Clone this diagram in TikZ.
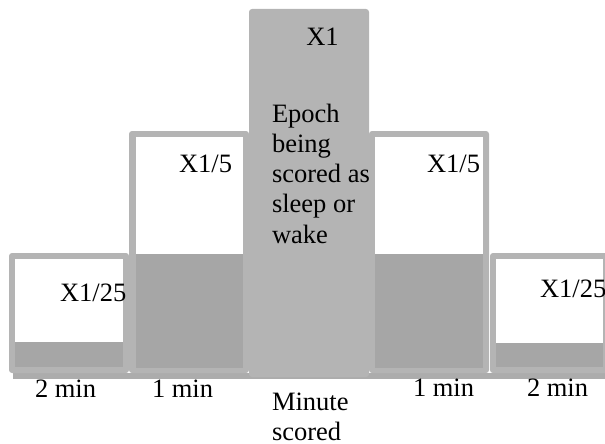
\documentclass[tikz,border=0pt]{standalone}
\usepackage{fontspec}
\setmainfont{Liberation Serif}
\definecolor{framegray}{RGB}{180,180,180}
\definecolor{fillgray}{RGB}{166,166,166}
\definecolor{basegray}{RGB}{172,172,172}
\begin{document}
\begin{tikzpicture}[x=1pt,y=-1pt,
  lbl/.style={font=\fontsize{26.5}{30.3}\selectfont, inner sep=0pt, outer sep=0pt, text=black},
  frame/.style={fill=framegray, rounded corners=3pt},
  upper/.style={fill=white},
  lower/.style={fill=fillgray}]
\useasboundingbox (0,0) rectangle (605,444);
\clip (0,0) rectangle (605,444);
% base bar
\fill[basegray] (13,373) rectangle (605,379);
% left 2 min box
\fill[frame] (9,253) rectangle (129,373);
\fill[upper] (15,259) rectangle (123,342);
\fill[lower] (15,342) rectangle (123,367);
% left 1 min box
\fill[frame] (129,131) rectangle (249,373);
\fill[upper] (136,137) rectangle (243,254);
\fill[lower] (136,254) rectangle (243,368);
% centre box
\fill[frame] (249,9) rectangle (369,377);
% right 1 min box
\fill[frame] (369,131) rectangle (489,373);
\fill[upper] (375,137) rectangle (483,254);
\fill[lower] (375,254) rectangle (483,368);
% right 2 min box
\fill[frame] (490,253) rectangle (609,373);
\fill[upper] (496,259) rectangle (603,343);
\fill[lower] (496,343) rectangle (603,367);
% labels
\node[lbl, anchor=base] (x1) at (322.5,46) {X1};
\node[lbl, anchor=base west] (e1) at (272,122) {Epoch};
\node[lbl, anchor=base west] (e2) at (272,152.3) {being};
\node[lbl, anchor=base west] (e3) at (272,182.6) {scored as};
\node[lbl, anchor=base west] (e4) at (272,212.9) {sleep or};
\node[lbl, anchor=base west] (e5) at (272,243.2) {wake};
\node[lbl, anchor=base west] (x5l) at (179,172) {X1/5};
\node[lbl, anchor=base west] (x5r) at (427,172.5) {X1/5};
\node[lbl, anchor=base west] (x25l) at (60,301) {X1/25};
\node[lbl, anchor=base west] (x25r) at (540,297) {X1/25};
\node[lbl, anchor=base west] (m2l) at (35,397) {2 min};
\node[lbl, anchor=base west] (m1l) at (152,397) {1 min};
\node[lbl, anchor=base west] (m1r) at (413,396) {1 min};
\node[lbl, anchor=base west] (m2r) at (527,396) {2 min};
\node[lbl, anchor=base west] (ms1) at (272,410) {Minute};
\node[lbl, anchor=base west] (ms2) at (272,440) {scored};
\end{tikzpicture}
\end{document}
